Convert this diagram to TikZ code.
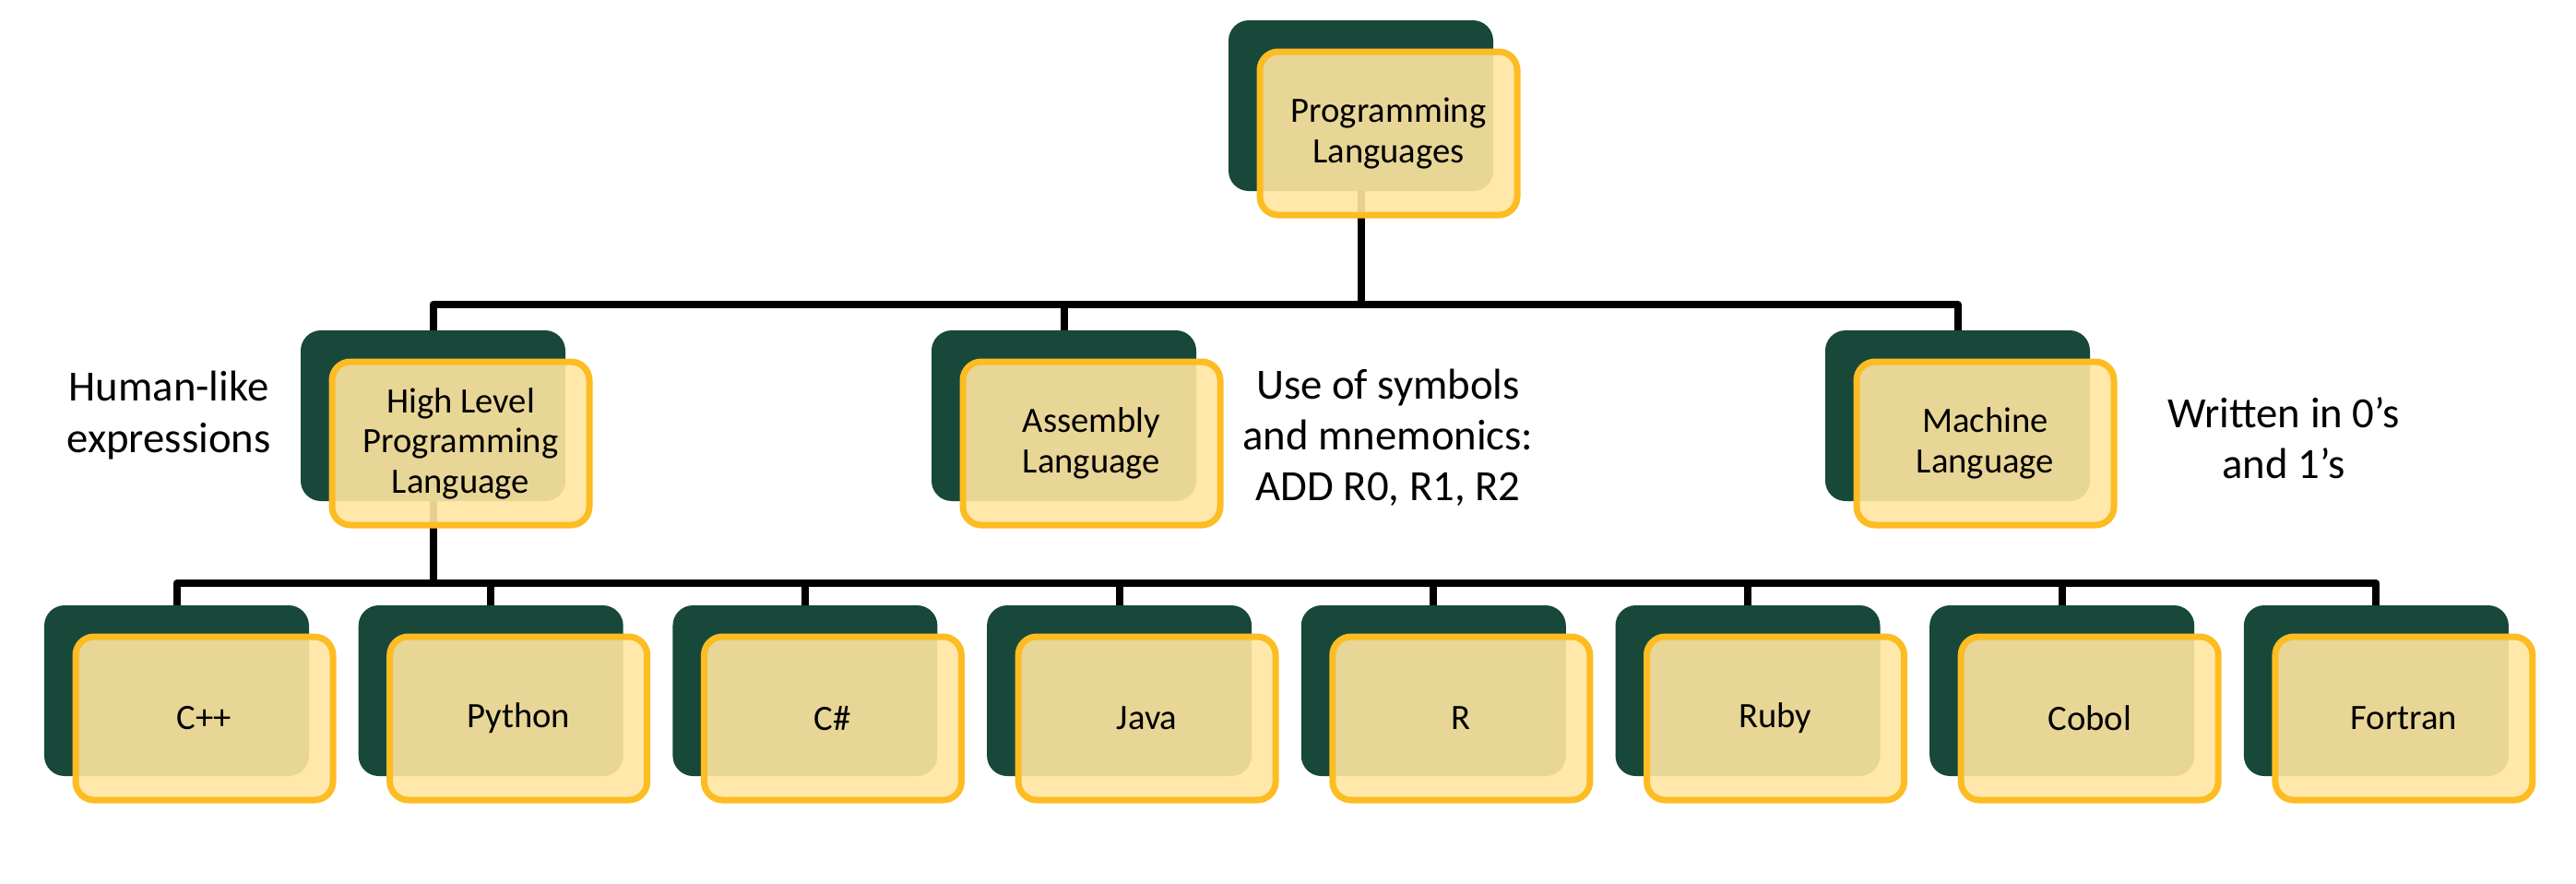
\documentclass[tikz,border=0pt]{standalone}
\usepackage{fontspec}
\setmainfont{Carlito}
\usepackage{xcolor}
\usetikzlibrary{positioning}
\definecolor{darkgreen}{HTML}{17483A}
\definecolor{goldline}{HTML}{FCBC22}
\definecolor{paleyellow}{HTML}{FFE6A0}
\tikzstyle{back} = [rectangle, rounded corners=0.22cm, minimum width=2.87cm, minimum height=1.85cm, inner sep=0pt, outer sep=0pt, fill=darkgreen]
\tikzstyle{front} = [rectangle, rounded corners=0.2cm, minimum width=2.79cm, minimum height=1.77cm, inner sep=0pt, outer sep=0pt, align=center, draw=goldline, line width=0.07cm, fill=paleyellow, fill opacity=0.9, text opacity=1, font=\fontsize{11}{12.4}\selectfont, xshift=0.3cm, yshift=-0.3cm]
\tikzstyle{note} = [align=center, font=\fontsize{13.3}{15.7}\selectfont]
\tikzstyle{line} = [draw, line width=0.08cm, line join=round]
\pgfdeclarelayer{background}
\pgfsetlayers{background,main}

\begin{document}
\begin{tikzpicture}
	\useasboundingbox (0,0) rectangle (27.93,-9.57);
	
	\node (top) [back] at (14.755,-1.145) {};
	\node (topf) [front] at (top) {Programming\\Languages};
	
	\node (hl) [back] at (4.695,-4.505) {};
	\node (hlf) [front] at (hl) {High Level\\Programming\\Language};
	\node (asm) [back] at (11.535,-4.505) {};
	\node (asmf) [front] at (asm) {Assembly\\Language};
	\node (mach) [back] at (21.225,-4.505) {};
	\node (machf) [front] at (mach) {Machine\\Language};
	
	\node (hlnote) [note] at (1.83,-4.50) {Human-like\\expressions};
	\node (asmnote) [note] at (15.05,-4.74) {Use of symbols\\and mnemonics:\\ADD R0, R1, R2};
	\node (machnote) [note] at (24.76,-4.75) {Written in 0’s\\and 1’s};
	
	\node (cpp) [back] at (1.915,-7.485) {};
	\node (python) [back, right=0.537cm of cpp] {};
	\node (csharp) [back, right=0.537cm of python] {};
	\node (java) [back, right=0.537cm of csharp] {};
	\node (rlang) [back, right=0.537cm of java] {};
	\node (ruby) [back, right=0.537cm of rlang] {};
	\node (cobol) [back, right=0.537cm of ruby] {};
	\node (fortran) [back, right=0.537cm of cobol] {};
	
	\node (cppf) [front] at (cpp) {C++};
	\node (pythonf) [front] at (python) {Python};
	\node (csharpf) [front] at (csharp) {C\#};
	\node (javaf) [front] at (java) {Java};
	\node (rlangf) [front] at (rlang) {R};
	\node (rubyf) [front] at (ruby) {Ruby};
	\node (cobolf) [front] at (cobol) {Cobol};
	\node (fortranf) [front] at (fortran) {Fortran};
	
	\begin{pgfonlayer}{background}
	\draw [line] (top.south) -- ++(0,-1.23) -| (hl.north);
	\draw [line] (top.south) -- ++(0,-1.23) -| (asm.north);
	\draw [line] (top.south) -- ++(0,-1.23) -| (mach.north);
	
	\draw [line] (hl.south) -- ++(0,-0.89) -| (cpp.north);
	\draw [line] (hl.south) -- ++(0,-0.89) -| (python.north);
	\draw [line] (hl.south) -- ++(0,-0.89) -| (csharp.north);
	\draw [line] (hl.south) -- ++(0,-0.89) -| (java.north);
	\draw [line] (hl.south) -- ++(0,-0.89) -| (rlang.north);
	\draw [line] (hl.south) -- ++(0,-0.89) -| (ruby.north);
	\draw [line] (hl.south) -- ++(0,-0.89) -| (cobol.north);
	\draw [line] (hl.south) -- ++(0,-0.89) -| (fortran.north);
	\end{pgfonlayer}
	
\end{tikzpicture}
\end{document}
